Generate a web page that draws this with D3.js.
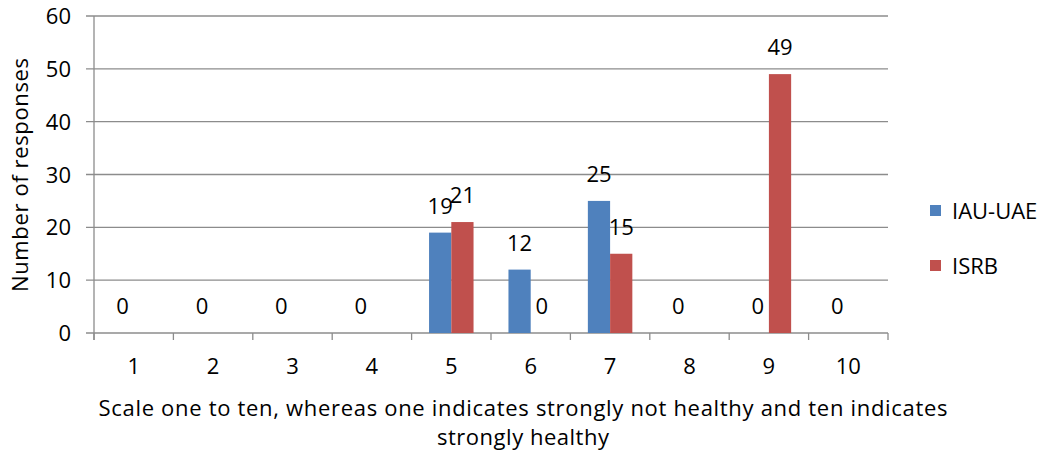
<!DOCTYPE html>
<html>
<head>
<meta charset="utf-8">
<script src="https://cdn.jsdelivr.net/npm/d3@7"></script>
<style>
  html, body { margin: 0; padding: 0; background: #fff; }
  svg text { font-family: "Open Sans", "Noto Sans", sans-serif; fill: #000; }
</style>
</head>
<body>
<svg id="chart" width="1045" height="456"></svg>
<script>
// Scale categories (1..10)
const categories = ["1", "2", "3", "4", "5", "6", "7", "8", "9", "10"];
// Responses per score; null = no value recorded
const iauUae = [0, 0, 0, 0, 19, 12, 25, 0, 0, 0];
const isrb = [null, null, null, null, 21, 0, 15, null, 49, null];
const seriesNames = ["IAU-UAE", "ISRB"];
const seriesColors = ["#4f81bd", "#c0504d"];
const yTicks = [0, 10, 20, 30, 40, 50, 60];

const FS = 22;
const svg = d3.select("#chart");
const plot = { left: 94, right: 888, top: 16, bottom: 333 };

const x = d3.scaleBand().domain(categories).range([plot.left, plot.right]).paddingInner(0).paddingOuter(0);
const inner = d3.scaleBand().domain(seriesNames).range([0, x.bandwidth()]).paddingInner(0).paddingOuter(0.785);
const y = d3.scaleLinear().domain([0, 60]).range([plot.bottom, plot.top]);

// Horizontal gridlines with small left ticks
svg.append("g").selectAll("line").data(yTicks).join("line")
  .attr("x1", plot.left - 8).attr("x2", plot.right)
  .attr("y1", d => y(d)).attr("y2", d => y(d))
  .attr("stroke", "#8c8c8c").attr("stroke-width", 1.3);

// Y tick labels
svg.append("g").selectAll("text").data(yTicks).join("text")
  .attr("x", 71).attr("y", d => y(d) + 8)
  .attr("text-anchor", "end")
  .attr("font-size", FS).text(d => d);

// Y axis line
svg.append("line").attr("x1", plot.left).attr("x2", plot.left)
  .attr("y1", plot.top).attr("y2", plot.bottom + 7)
  .attr("stroke", "#8c8c8c").attr("stroke-width", 1.3);

// Category tick marks
const tickPos = categories.map(c => x(c)).concat([plot.right]);
svg.append("g").selectAll("line").data(tickPos).join("line")
  .attr("x1", d => d).attr("x2", d => d)
  .attr("y1", plot.bottom).attr("y2", plot.bottom + 7)
  .attr("stroke", "#8c8c8c").attr("stroke-width", 1.3);

// Category labels
svg.append("g").selectAll("text").data(categories).join("text")
  .attr("x", d => x(d) + x.bandwidth() / 2).attr("y", 374)
  .attr("text-anchor", "middle")
  .attr("font-size", FS).text(d => d);

// Bars and value labels
const series = [iauUae, isrb];
series.forEach((vals, si) => {
  const pts = categories.map((c, i) => ({ c, v: vals[i] })).filter(d => d.v !== null);
  const g = svg.append("g");
  g.selectAll("rect").data(pts.filter(d => d.v > 0)).join("rect")
    .attr("x", d => x(d.c) + inner(seriesNames[si]))
    .attr("width", inner.bandwidth())
    .attr("y", d => y(d.v))
    .attr("height", d => y(0) - y(d.v))
    .attr("fill", seriesColors[si]);
  g.selectAll("text").data(pts).join("text")
    .attr("x", d => x(d.c) + inner(seriesNames[si]) + inner.bandwidth() / 2)
    .attr("y", d => y(d.v) - 19)
    .attr("text-anchor", "middle")
    .attr("font-size", FS).text(d => d.v);
});

// Axis titles
svg.append("text")
  .attr("transform", "translate(28,175) rotate(-90)")
  .attr("text-anchor", "middle").attr("font-size", FS)
  .attr("textLength", 234).attr("lengthAdjust", "spacing")
  .text("Number of responses");
svg.append("text").attr("x", 523).attr("y", 416)
  .attr("text-anchor", "middle").attr("font-size", FS)
  .attr("textLength", 849).attr("lengthAdjust", "spacing")
  .text("Scale one to ten, whereas one indicates strongly not healthy and ten indicates");
svg.append("text").attr("x", 523).attr("y", 445)
  .attr("text-anchor", "middle").attr("font-size", FS)
  .attr("textLength", 172).attr("lengthAdjust", "spacing")
  .text("strongly healthy");

// Legend
const legend = svg.append("g").selectAll("g").data(seriesNames).join("g")
  .attr("transform", (d, i) => `translate(930, ${205 + i * 55})`);
legend.append("rect").attr("width", 11).attr("height", 11)
  .attr("fill", (d, i) => seriesColors[i]);
legend.append("text").attr("x", 22).attr("y", 14)
  .attr("font-size", FS).text(d => d);
</script>
</body>
</html>
